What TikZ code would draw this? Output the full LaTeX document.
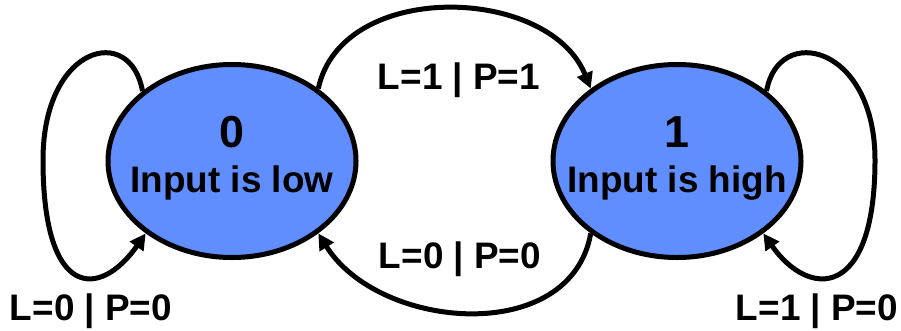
\documentclass[tikz,border=0pt]{standalone}
\usepackage{fontspec}
\setmainfont{Liberation Sans}
\usetikzlibrary{arrows.meta,shapes.geometric}
\definecolor{stateblue}{RGB}{96,142,255}
\begin{document}
\begin{tikzpicture}[
    state/.style={ellipse, draw, line width=0.1cm, fill=stateblue, minimum width=4.96cm, minimum height=3.86cm, inner sep=0pt},
    statenum/.style={anchor=base, font=\bfseries\fontsize{25.5pt}{28pt}\selectfont, inner sep=0pt},
    statetext/.style={anchor=base, font=\bfseries\fontsize{21pt}{24pt}\selectfont, inner sep=0pt},
    translabel/.style={anchor=base, font=\bfseries\fontsize{21pt}{24pt}\selectfont, inner sep=0pt},
    trans/.style={line width=0.1cm, -{Triangle[length=0.32cm, width=0.32cm]}}]
    \path[use as bounding box] (0,0) rectangle (18.02,6.6);
    \node[state] (low)  at (4.64,3.38)  {};
    \node[state] (high) at (13.54,3.38) {};
    \node[statenum]  (lownum)   at ([yshift=2.8mm]low.center)   {0};
    \node[statetext] (lowtext)  at ([yshift=-6.2mm]low.center)  {Input is low};
    \node[statenum]  (highnum)  at ([yshift=2.8mm]high.center)  {1};
    \node[statetext] (hightext) at ([yshift=-6.2mm]high.center) {Input is high};
    \coordinate (lowloop)  at (0.86,3.40);
    \coordinate (highloop) at (17.5,3.40);

    % Transitions between the states
    \draw[trans] (low.40) to[out=78, in=112, looseness=1.05] (high.140);
    \draw[trans] (high.220) to[out=-100, in=-58, looseness=1.08] (low.320);
    % Self loops
    \draw[trans] (low.142) to[out=100, in=90, out distance=1.38cm, in distance=2.3cm] (lowloop)
        to[out=-90, in=235, out distance=2.8cm, in distance=1.6cm] (low.220);
    \draw[trans] (high.38) to[out=80, in=90, out distance=1.38cm, in distance=2.3cm] (highloop)
        to[out=-90, in=-55, out distance=2.8cm, in distance=1.6cm] (high.-40);

    \node[translabel] (lowstay)  at (1.82,0.2)  {L=0 | P=0};
    \node[translabel] (rise)     at (9.18,4.82) {L=1 | P=1};
    \node[translabel] (fall)     at (9.2,1.24)  {L=0 | P=0};
    \node[translabel] (highstay) at (16.34,0.2) {L=1 | P=0};
    \end{tikzpicture}
\end{document}
